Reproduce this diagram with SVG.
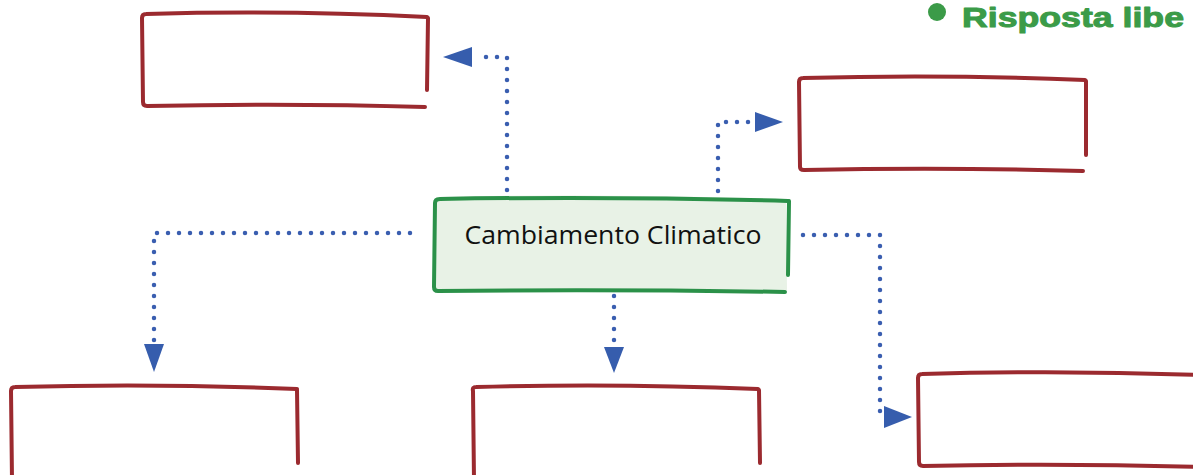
<svg xmlns="http://www.w3.org/2000/svg" width="1193" height="475" viewBox="0 0 1193 475">
<style>
.red{fill:none;stroke:#9b2a2f;stroke-width:4;stroke-linecap:round;stroke-linejoin:round}
.grn{fill:none;stroke:#2b9149;stroke-width:4;stroke-linecap:round;stroke-linejoin:round}
.dot{fill:none;stroke:#3a5eb0;stroke-width:4.5;stroke-linecap:round;stroke-dasharray:0 11}
.arrow{fill:#365dad}
.lbl{font-family:"Open Sans","Liberation Sans",sans-serif;font-size:26px;fill:#111}
.badge{font-family:"Liberation Sans",Arial,sans-serif;font-weight:bold;font-size:28px;fill:#3b9b48;stroke:#3b9b48;stroke-width:1;stroke-linejoin:round}
</style>
<rect width="1193" height="475" fill="#fff"/>
<g id="badge">
<circle cx="937" cy="12" r="9" fill="#3b9b48"/>
<text class="badge" x="962" y="27" textLength="222" lengthAdjust="spacingAndGlyphs">Risposta libe</text>
</g>
<g id="connectors">
<path class="dot" d="M507 190 L507 57 L480 57"/>
<polygon class="arrow" points="443,57 472,47 472,67"/>
<path class="dot" d="M718 191 L718 122 L752 122"/>
<polygon class="arrow" points="783,122 755,112 755,132"/>
<path class="dot" d="M410 233 L154 233 L154 343"/>
<polygon class="arrow" points="154,372 144,344 164,344"/>
<path class="dot" d="M614 296 L614 346"/>
<polygon class="arrow" points="614,373 604,347 624,347"/>
<path class="dot" d="M803 235 L880 235 L880 416"/>
<polygon class="arrow" points="912,417 884,406 884,428"/>
</g>
<g id="node-center">
<path d="M436 197 Q610 193 786 199 L787 290 Q610 292 434 290 Z" fill="#e8f2e6"/>
<path class="grn" d="M788 201 Q612 196 440 199 Q435 199 435 203 L434 287 Q434 291 438 291 Q612 289 785 292"/>
<path class="grn" d="M789 201 L788 275"/>
<text class="lbl" x="613" y="244" text-anchor="middle" textLength="297" lengthAdjust="spacingAndGlyphs">Cambiamento Climatico</text>
</g>
<g id="node-top-left">
<path class="red" d="M427 17 Q285 10 146 14 Q142 14 142 18 L143 102 Q143 106 147 106 Q290 103 425 107"/>
<path class="red" d="M428 18 L427 90"/>
</g>
<g id="node-top-right">
<path class="red" d="M1085 80 Q942 74 803 78 Q799 78 799 82 L800 167 Q800 170 804 170 Q945 167 1083 171"/>
<path class="red" d="M1086 81 L1086 155"/>
</g>
<g id="node-bottom-left">
<path class="red" d="M297 389 Q155 383 15 387 Q11 387 11 391 L12 480"/>
<path class="red" d="M297 390 L298 463"/>
</g>
<g id="node-bottom-center">
<path class="red" d="M758 389 Q615 383 476 387 Q472 387 473 391 L474 480"/>
<path class="red" d="M759 390 L760 463"/>
</g>
<g id="node-bottom-right">
<path class="red" d="M1200 375 Q1060 370 922 374 Q918 374 918 378 L919 462 Q919 466 923 466 Q1060 463 1200 467"/>
</g>
</svg>
